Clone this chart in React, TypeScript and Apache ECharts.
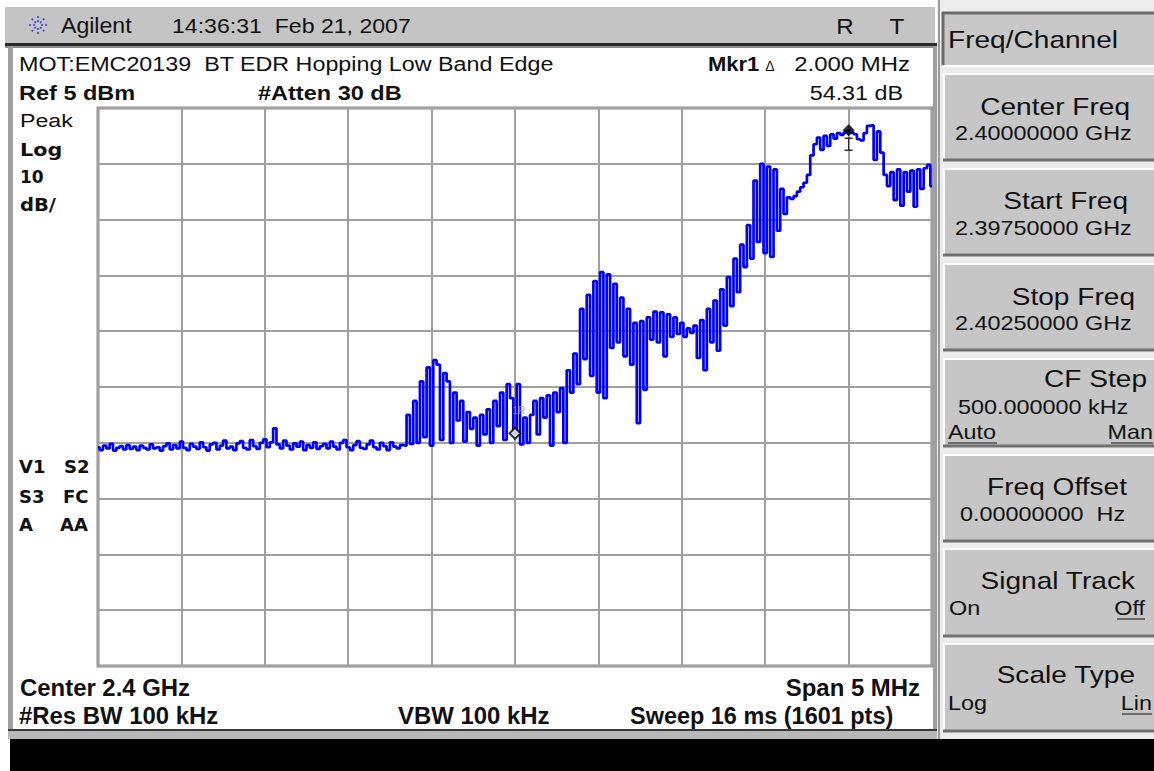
import React, { useEffect, useRef } from "react";
import * as echarts from "echarts";

// ---- Sweep settings (from the annotations) ----
const freqStartMHz = 2397.5;
const freqStopMHz = 2402.5;
const freqStepMHz = 0.02;
const freqDivMHz = 0.5;
const refLevelDbm = 5;
const dbPerDiv = 10;
const divisions = 10;

// ---- Trace levels (dBm), one every 0.02 MHz from 2397.50 to 2402.50 MHz ----
const traceDbm = [
  // 2397.50 - 2399.32 : noise floor
  -55.8, -56.3, -55.5, -56.0, -55.2, -56.4, -55.9, -55.6, -56.2, -55.4,
  -56.1, -55.7, -56.3, -55.5, -55.9, -56.2, -55.3, -56.0, -55.8, -56.4,
  -55.6, -55.1, -56.2, -55.4, -56.0, -54.8, -55.9, -56.3, -55.2, -55.7,
  -56.1, -54.9, -55.8, -56.4, -55.3, -55.0, -56.2, -55.5, -54.6, -56.0,
  -55.7, -56.3, -55.1, -54.7, -55.9, -56.2, -54.5, -55.6, -56.1, -55.0,
  -54.4, -55.8, -54.9, -52.4, -55.3, -56.0, -54.6, -55.5, -56.2, -55.1,
  -55.7, -54.8, -56.3, -55.4, -55.9, -54.9, -56.1, -55.6, -55.2, -56.0,
  -54.8, -55.7, -56.2, -55.0, -54.5, -55.8, -56.3, -55.4, -54.7, -55.9,
  -56.1, -55.3, -54.6, -55.8, -56.2, -55.0, -55.6, -56.3, -54.9, -55.7,
  -56.0, -55.4,
  // 2399.34 - 2400.00 : first hump
  -55.5, -50, -55.2, -47.5, -55, -44, -54, -41.5, -55.5, -40.2,
  -41, -54.5, -42.5, -44, -55, -46, -51, -47.5, -54.8, -49.5,
  -52.5, -50.5, -55.5, -50, -53.5, -49, -55, -47.5, -52, -46,
  -54.5, -44.5, -47, -53.3,
  // 2400.02 - 2400.78 : rise and second hump
  -44.5, -55.3, -50.5, -55, -50, -47.5, -53.5, -47, -50.5, -46.5,
  -55.5, -46, -49.5, -45.2, -55, -42, -46, -39, -44.5, -31,
  -40, -28.5, -43, -26, -46, -24.4, -47, -24.8, -38, -26.5,
  -37, -29, -39.5, -31, -41, -33.5, -51.5, -33.2, -45.5,
  // 2400.80 - 2401.56 : shoulder and steep rise
  -32.5, -36.5, -31.5, -37, -31.6, -39.5, -32, -36, -32.5, -35.5,
  -33.5, -36, -34.5, -35.3, -34, -39.8, -33, -42, -31, -37,
  -29.5, -38.5, -27.5, -34, -25.3, -30.5, -22, -28, -19.5, -23.5,
  -16, -22, -8, -19, -5, -21, -5.5, -21.7, -6,
  // 2401.58 - 2402.50 : main lobe and right edge
  -17, -9.5, -14, -11, -11.3, -10.8, -10, -9.2, -8.4, -7,
  -3.5, -1.5, -0.3, -2.5, 0, -1.8, 0.3, -0.5, 0.5, 0.2,
  0.6, 1.0, 0.6, 0.3, -0.6, -0.8, 0.5, 1.8, 1.9, -4.3,
  0.8, -3, -7, -9, -6.5, -11.5, -6, -12.5, -6.5, -10,
  -6.2, -12.7, -6, -9.5, -5.8, -5.2, -9,
];

// ---- Markers: reference (1R) and marker 1 ----
const markerFreqsMHz = [2400.0, 2402.0];
const markerNames = ["1R", "1"];

const SANS = "'Liberation Sans', Arial, sans-serif";
const DEJAVU = "'DejaVu Sans', Verdana, sans-serif";

function txt(x: number, y: number, text: string, font: string, align = "left", sx = 1, fill = "#111") {
  return {
    type: "text",
    x,
    y,
    scaleX: sx,
    z: 10,
    style: {
      text,
      font,
      fill,
      align,
      verticalAlign: "middle",
      textAlign: align,
      textVerticalAlign: "middle",
    },
  };
}

function hline(x1: number, x2: number, y: number, color: string, w = 1) {
  return { type: "line", z: 10, shape: { x1, y1: y, x2, y2: y }, style: { stroke: color, lineWidth: w } };
}
function vline(x: number, y1: number, y2: number, color: string, w = 1) {
  return { type: "line", z: 10, shape: { x1: x, y1, x2: x, y2 }, style: { stroke: color, lineWidth: w } };
}
function rect(x: number, y: number, width: number, height: number, fill: string, z = 1) {
  return { type: "rect", z, shape: { x, y, width, height }, style: { fill } };
}

function button(y: number, h: number) {
  const x = 943;
  const w = 211;
  return [
    rect(x, y, w, h, "#c6c6c6", 2),
    hline(x, x + w, y + 1, "#ffffff", 2),
    vline(x + 1, y, y + h, "#ffffff", 2),
    hline(x, x + w, y + h - 1, "#707070", 3),
  ];
}

function logo(cx: number, cy: number) {
  const out: any[] = [];
  for (let k = 0; k < 8; k++) {
    const a = (k * Math.PI) / 4;
    out.push({
      type: "line",
      z: 10,
      shape: { x1: cx + Math.cos(a) * 3, y1: cy + Math.sin(a) * 3, x2: cx + Math.cos(a) * 11, y2: cy + Math.sin(a) * 11 },
      style: { stroke: "#3a3aff", lineWidth: 1.6, lineDash: [2, 2] },
    });
  }
  return out;
}

export default function App() {
  const ref = useRef<HTMLDivElement>(null);

  useEffect(() => {
    if (!ref.current) return;
    const chart = echarts.init(ref.current, undefined, { renderer: "svg" });

    const traceData = traceDbm.map((v, i) => [freqStartMHz + i * freqStepMHz, v]);
    const markerData = markerFreqsMHz.map((f, k) => {
      const idx = Math.round((f - freqStartMHz) / freqStepMHz);
      return {
        value: [f, traceDbm[idx]],
        name: markerNames[k],
        itemStyle:
          k === 0
            ? { color: "#ffffff", borderColor: "#000", borderWidth: 2 }
            : { color: "#000", borderColor: "#000", borderWidth: 1 },
        label:
          k === 0
            ? { show: true, formatter: "1R", position: "top", offset: [4, -6], color: "#9a9a9a", fontSize: 10, fontFamily: SANS }
            : { show: false },
      };
    });
    const iBeam = markerFreqsMHz.slice(1).map((f) => {
      const idx = Math.round((f - freqStartMHz) / freqStepMHz);
      return [f, traceDbm[idx]];
    });

    const title = `24px ${SANS}`;
    const tsx = 1.17;
    const val = `20px ${SANS}`;
    const vsx = 1.17;
    const foot = `bold 23px ${SANS}`;
    const fsx = 1.04;

    const graphics: any[] = [
      // screen frame
      rect(5, 7, 930, 37, "#c4c4c4"),
      rect(5, 43, 932, 3, "#2a2a2a"),
      rect(5, 46, 932, 2, "#8c8c8c"),
      rect(8, 46, 5, 690, "#a0a0a0"),
      rect(933, 46, 4, 684, "#a0a0a0"),
      rect(8, 729, 929, 2, "#3a3a3a"),
      rect(8, 731, 1146, 8, "#b8b8b8"),
      rect(10, 739, 1144, 32, "#000000"),
      // right panel
      rect(937, 0, 217, 739, "#ececec"),
      vline(939, 0, 739, "#9a9a9a", 2),
      rect(942, 12, 212, 54, "#c8c8c8", 2),
      hline(942, 1154, 13, "#6a6a6a", 3),
      vline(943, 12, 66, "#6a6a6a", 3),
      hline(942, 1154, 66, "#ffffff", 2),
      ...button(73, 88),
      ...button(168, 88),
      ...button(263, 88),
      ...button(358, 89),
      ...button(454, 88),
      ...button(548, 89),
      ...button(643, 89),
      // top bar
      ...logo(38, 25),
      txt(61, 26, "Agilent", `22px ${SANS}`, "left", 1.05),
      txt(172, 26, "14:36:31  Feb 21, 2007", `21px ${SANS}`, "left", 1.1),
      txt(845, 26, "R", `22px ${SANS}`, "center", 1.1),
      txt(897, 26, "T", `22px ${SANS}`, "center", 1.1),
      // header texts
      txt(19, 64, "MOT:EMC20139  BT EDR Hopping Low Band Edge", `21px ${SANS}`, "left", 1.11),
      txt(708, 64, "Mkr1", `bold 20px ${SANS}`, "left", 1.1),
      txt(770, 66, "\u0394", `14px ${SANS}`, "center"),
      txt(910, 64, "2.000 MHz", `21px ${SANS}`, "right", 1.14),
      txt(19, 93, "Ref 5 dBm", `bold 21px ${SANS}`, "left", 1.12),
      txt(258, 93, "#Atten 30 dB", `bold 21px ${SANS}`, "left", 1.12),
      txt(903, 93, "54.31 dB", `21px ${SANS}`, "right", 1.11),
      // left annotations
      txt(20, 120, "Peak", `19px ${SANS}`, "left", 1.22),
      txt(20, 150, "Log", `bold 18px ${DEJAVU}`, "left", 1.15),
      txt(20, 177, "10", `bold 17px ${DEJAVU}`),
      txt(20, 205, "dB/", `bold 17px ${DEJAVU}`, "left", 1.15),
      txt(19, 466, "V1", `bold 18px ${DEJAVU}`),
      txt(64, 466, "S2", `bold 18px ${DEJAVU}`),
      txt(19, 496, "S3", `bold 18px ${DEJAVU}`),
      txt(63, 496, "FC", `bold 18px ${DEJAVU}`),
      txt(19, 524, "A", `bold 18px ${DEJAVU}`),
      txt(60, 524, "AA", `bold 18px ${DEJAVU}`),
      // footer
      txt(20, 688, "Center 2.4 GHz", foot, "left", fsx),
      txt(920, 688, "Span 5 MHz", foot, "right", fsx),
      txt(19, 716, "#Res BW 100 kHz", foot, "left", fsx),
      txt(398, 716, "VBW 100 kHz", foot, "left", fsx),
      txt(630, 716, "Sweep 16 ms (1601 pts)", foot, "left", 1.02),
      // softkeys
      txt(948, 40, "Freq/Channel", title, "left", tsx),
      txt(1130, 107, "Center Freq", title, "right", tsx),
      txt(955, 133, "2.40000000 GHz", val, "left", vsx),
      txt(1128, 201, "Start Freq", title, "right", tsx),
      txt(955, 228, "2.39750000 GHz", val, "left", vsx),
      txt(1135, 297, "Stop Freq", title, "right", tsx),
      txt(955, 323, "2.40250000 GHz", val, "left", vsx),
      txt(1147, 379, "CF Step", title, "right", tsx),
      txt(958, 407, "500.000000 kHz", val, "left", vsx),
      txt(948, 432, "Auto", val, "left", vsx),
      hline(948, 997, 443, "#111", 1),
      txt(1153, 432, "Man", val, "right", vsx),
      hline(1111, 1153, 443, "#111", 1),
      txt(1127, 487, "Freq Offset", title, "right", tsx),
      txt(960, 514, "0.00000000  Hz", val, "left", vsx),
      txt(1135, 581, "Signal Track", title, "right", tsx),
      txt(949, 608, "On", val, "left", vsx),
      txt(1145, 608, "Off", val, "right", vsx),
      hline(1117, 1145, 619, "#111", 1),
      txt(1135, 675, "Scale Type", title, "right", tsx),
      txt(948, 703, "Log", val, "left", vsx),
      txt(1152, 703, "Lin", val, "right", vsx),
      hline(1122, 1152, 714, "#111", 1),
    ];

    const axisHidden = {
      axisLine: { show: false },
      axisTick: { show: false },
      axisLabel: { show: false },
    };

    chart.setOption({
      animation: false,
      backgroundColor: "#ffffff",
      grid: {
        left: 98,
        top: 108,
        width: 834,
        height: 558,
        show: true,
        borderColor: "#8c8c8c",
        borderWidth: 3,
        backgroundColor: "#ffffff",
      },
      xAxis: {
        type: "value",
        min: freqStartMHz,
        max: freqStopMHz,
        interval: freqDivMHz,
        ...axisHidden,
        splitLine: { show: true, lineStyle: { color: "#a0a0a0", width: 2 } },
      },
      yAxis: [
        {
          type: "value",
          min: refLevelDbm - dbPerDiv * divisions,
          max: refLevelDbm,
          ...axisHidden,
          splitLine: { show: false },
        },
        {
          type: "value",
          min: 0,
          max: divisions,
          interval: 1,
          ...axisHidden,
          splitLine: { show: true, lineStyle: { color: "#a0a0a0", width: 2 } },
        },
      ],
      graphic: { elements: graphics },
      series: [
        {
          type: "line",
          yAxisIndex: 0,
          data: traceData,
          step: "middle",
          showSymbol: false,
          symbol: "none",
          lineStyle: { color: "#0000ff", width: 2.7 },
          z: 3,
        },
        {
          type: "scatter",
          yAxisIndex: 0,
          data: markerData,
          symbol: "diamond",
          symbolSize: 11,
          z: 5,
        },
        {
          type: "scatter",
          yAxisIndex: 0,
          data: iBeam,
          symbol: "path://M0,0H8M4,0V14M0,14H8",
          symbolSize: [8, 12],
          symbolOffset: [0, 14],
          itemStyle: { color: "transparent", borderColor: "#000", borderWidth: 1.2 },
          z: 5,
        },
      ],
    });

    return () => chart.dispose();
  }, []);

  return (
    <div
      ref={ref}
      style={{ position: "absolute", left: 0, top: 0, width: 1154, height: 771 }}
    />
  );
}
